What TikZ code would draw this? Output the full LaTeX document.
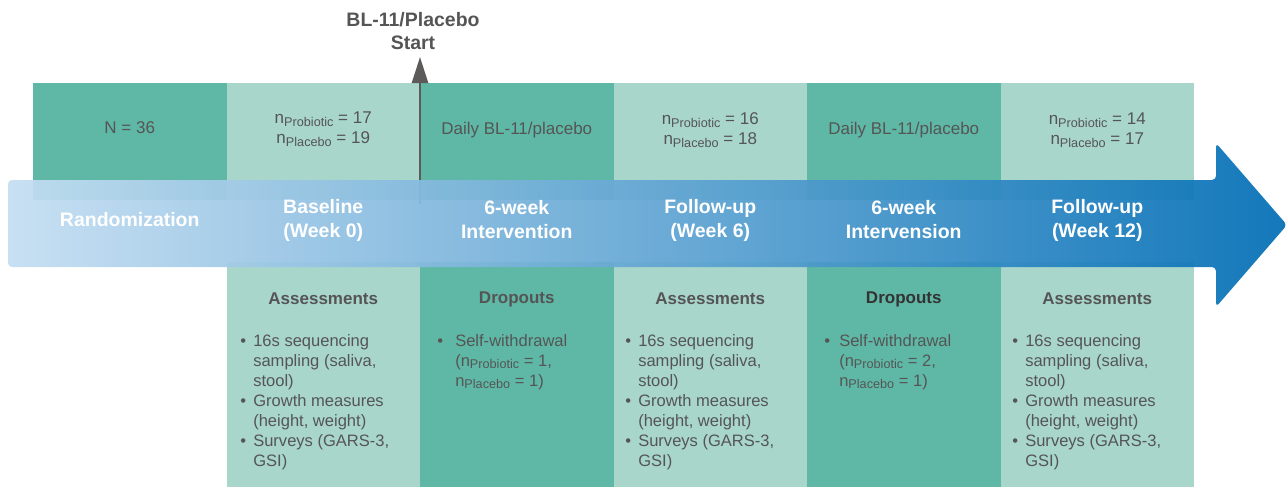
\documentclass[tikz,border=0pt]{standalone}
\usepackage{fontspec}
\setmainfont{Liberation Sans}
\usetikzlibrary{arrows.meta}

\definecolor{tealD}{HTML}{5FB8A6}
\definecolor{tealL}{HTML}{A8D6CB}
\definecolor{txt}{HTML}{555555}
\definecolor{txtD}{HTML}{333333}
\definecolor{lineG}{HTML}{5D5A5A}
\definecolor{arrL}{HTML}{C4DEF2}
\definecolor{arrR}{HTML}{0570B6}

% group size with a lowered label
\newcommand\grp[1]{n\raisebox{-0.3ex}{\fontsize{9.5}{10}\selectfont #1}}
% bullet set in a box of given width, and the matching indent
\newcommand\bul[1]{\makebox[#1][l]{\textbullet}}
\newcommand\cont[1]{\hspace*{#1}}

\begin{document}
\begin{tikzpicture}[x=0.75pt,y=-0.75pt,
  cell/.style={anchor=north west, inner sep=0pt, outer sep=0pt, draw=none,
               minimum width=145.125pt},
  topcell/.style={cell, minimum height=87.75pt},
  botcell/.style={cell, minimum height=170pt},
  toptext/.style={inner sep=0pt, text=txt, align=center,
                  font=\fontsize{12.75}{15}\selectfont},
  heading/.style={inner sep=0pt, text=txt,
                  font=\fontsize{12.75}{15}\selectfont\bfseries},
  listtext/.style={anchor=north west, inner sep=0pt, text=txt, align=left,
                   font=\fontsize{12.4}{15}\selectfont},
  stagetext/.style={inner sep=0pt, text=white, align=center,
                    font=\fontsize{14.6}{18}\selectfont\bfseries},
  bigarrow/.style={left color=arrL, right color=arrR, fill opacity=0.94,
                   rounded corners=3pt},
  startline/.style={draw=lineG, line width=1.9pt,
                    -{Triangle[width=12pt,length=19.5pt]}}
]
\useasboundingbox (0,0) rectangle (1287,486);

% upper row of cells
\node[topcell, fill=tealD] (u1) at (33,83) {};
\node[topcell, fill=tealL] (u2) at (226.5,83) {};
\node[topcell, fill=tealD] (u3) at (420,83) {};
\node[topcell, fill=tealL] (u4) at (613.5,83) {};
\node[topcell, fill=tealD] (u5) at (807,83) {};
\node[topcell, fill=tealL] (u6) at (1000.5,83) {};

% lower row of cells
\node[botcell, fill=tealL] (l2) at (226.5,262) {};
\node[botcell, fill=tealD] (l3) at (420,262) {};
\node[botcell, fill=tealL] (l4) at (613.5,262) {};
\node[botcell, fill=tealD] (l5) at (807,262) {};
\node[botcell, fill=tealL] (l6) at (1000.5,262) {};

% start marker
\coordinate (sbot) at (420,204);
\coordinate (stop) at (420,57);
\draw[startline] (sbot) -- (stop);
\node[inner sep=0pt, text=txt, align=center,
      font=\fontsize{14.6}{17.25}\selectfont\bfseries] (start) at (413,31)
      {BL-11/Placebo\\Start};

% timeline arrow
\shade[bigarrow] (8,180) -- (1216,180) -- (1216,143) -- (1287,225)
  -- (1216,307) -- (1216,267) -- (8,267) -- cycle;

% stage labels on the arrow
\node[stagetext] (s1) at (129.75,220) {Randomization};
\node[stagetext] (s2) at (323.25,220) {Baseline\\(Week 0)};
\node[stagetext] (s3) at (516.75,220) {6-week\\Intervention};
\node[stagetext] (s4) at (710.25,220) {Follow-up\\(Week 6)};
\node[stagetext] (s5) at (903.75,220) {6-week\\Intervension};
\node[stagetext] (s6) at (1097.25,220) {Follow-up\\(Week 12)};

% upper cell texts
\node[toptext] (t1) at (129.75,128) {N = 36};
\node[toptext] (t2) at (323.25,129) {\grp{Probiotic} = 17\\\grp{Placebo} = 19};
\node[toptext] (t3) at (516.75,130) {Daily BL-11/placebo};
\node[toptext] (t4) at (710.25,130) {\grp{Probiotic} = 16\\\grp{Placebo} = 18};
\node[toptext] (t5) at (903.75,130) {Daily BL-11/placebo};
\node[toptext] (t6) at (1097.25,130) {\grp{Probiotic} = 14\\\grp{Placebo} = 17};

% lower cell headings
\node[heading] (h2) at (323.25,299) {Assessments};
\node[heading] (h3) at (516.75,299) {Dropouts};
\node[heading] (h4) at (710.25,299) {Assessments};
\node[heading, text=txtD] (h5) at (903.75,299) {Dropouts};
\node[heading] (h6) at (1097.25,299) {Assessments};

% lower cell lists
\node[listtext] (a2) at (240,334) {%
  \bul{9.75pt}16s sequencing\\ \cont{9.75pt}sampling (saliva,\\ \cont{9.75pt}stool)\\
  \bul{9.75pt}Growth measures\\ \cont{9.75pt}(height, weight)\\
  \bul{9.75pt}Surveys (GARS-3,\\ \cont{9.75pt}GSI)};
\node[listtext] (d3) at (437,334) {%
  \bul{13.5pt}Self-withdrawal\\ \cont{13.5pt}(\grp{Probiotic} = 1,\\
  \cont{13.5pt}\grp{Placebo} = 1)};
\node[listtext] (a4) at (625,334) {%
  \bul{9.75pt}16s sequencing\\ \cont{9.75pt}sampling (saliva,\\ \cont{9.75pt}stool)\\
  \bul{9.75pt}Growth measures\\ \cont{9.75pt}(height, weight)\\
  \bul{9.75pt}Surveys (GARS-3,\\ \cont{9.75pt}GSI)};
\node[listtext] (d5) at (824,334) {%
  \bul{11.25pt}Self-withdrawal\\ \cont{11.25pt}(\grp{Probiotic} = 2,\\
  \cont{11.25pt}\grp{Placebo} = 1)};
\node[listtext] (a6) at (1012,334) {%
  \bul{9.75pt}16s sequencing\\ \cont{9.75pt}sampling (saliva,\\ \cont{9.75pt}stool)\\
  \bul{9.75pt}Growth measures\\ \cont{9.75pt}(height, weight)\\
  \bul{9.75pt}Surveys (GARS-3,\\ \cont{9.75pt}GSI)};
\end{tikzpicture}
\end{document}
